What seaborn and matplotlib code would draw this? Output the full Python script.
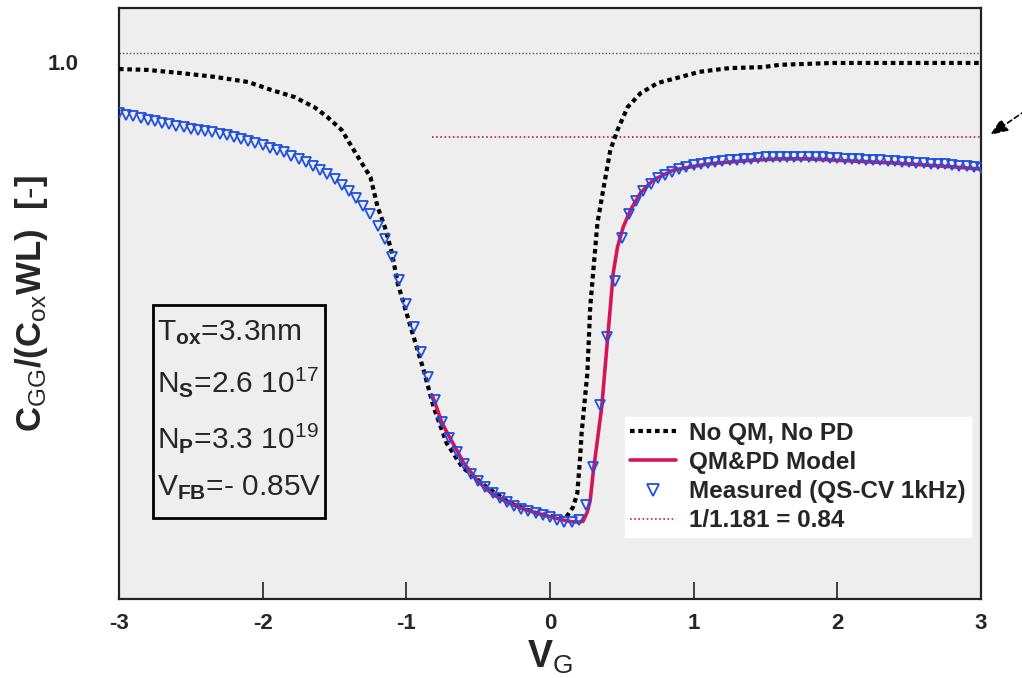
import numpy as np
import pandas as pd
import matplotlib
matplotlib.use('Agg')
import matplotlib.pyplot as plt
import seaborn as sns
from matplotlib.lines import Line2D
from matplotlib.patches import Rectangle

# ---------------- data ----------------
nopd_vg = [-3.00, -2.80, -2.56, -2.33, -2.10, -1.94, -1.78, -1.64, -1.55, -1.45,
           -1.38, -1.31, -1.25, -1.20, -1.15, -1.10, -1.06, -0.97, -0.88, -0.81,
           -0.72, -0.61, -0.44, -0.28, -0.09, 0.07, 0.11, 0.16, 0.19, 0.21,
           0.22, 0.26, 0.28, 0.30, 0.33, 0.37, 0.42, 0.47, 0.54, 0.63,
           0.75, 0.91, 1.04, 1.25, 1.48, 1.60, 1.97, 2.44, 3.00]
nopd_c = [0.986, 0.984, 0.977, 0.969, 0.958, 0.941, 0.926, 0.904, 0.883, 0.855,
          0.819, 0.784, 0.754, 0.690, 0.647, 0.591, 0.526, 0.432, 0.340, 0.260,
          0.183, 0.131, 0.088, 0.054, 0.032, 0.022, 0.022, 0.045, 0.075, 0.153,
          0.204, 0.333, 0.475, 0.548, 0.655, 0.726, 0.812, 0.855, 0.904, 0.934,
          0.956, 0.969, 0.980, 0.988, 0.990, 0.995, 0.999, 0.999, 0.999]

model_vg = [-0.82, -0.75, -0.70, -0.60, -0.50, -0.40, -0.30, -0.20, -0.10, 0.00,
            0.10, 0.15, 0.20, 0.23, 0.26, 0.28, 0.30, 0.33, 0.36, 0.40,
            0.42, 0.44, 0.47, 0.51, 0.56, 0.63, 0.72, 0.86, 1.00, 1.10,
            1.20, 1.40, 1.60, 1.80, 2.00, 2.20, 2.40, 2.60, 2.80, 3.00]
model_c = [0.286, 0.225, 0.196, 0.140, 0.100, 0.073, 0.056, 0.043, 0.033, 0.025,
           0.017, 0.014, 0.013, 0.015, 0.035, 0.060, 0.118, 0.189, 0.260, 0.404,
           0.475, 0.548, 0.604, 0.647, 0.683, 0.720, 0.748, 0.769, 0.777, 0.782,
           0.785, 0.790, 0.793, 0.793, 0.790, 0.787, 0.784, 0.780, 0.776, 0.771]

meas_vg = np.round(np.arange(-3.0, 3.0001, 0.05), 2)
meas_c = [0.891, 0.888, 0.885, 0.881, 0.877, 0.874, 0.871, 0.868, 0.864, 0.861,
          0.858, 0.856, 0.853, 0.850, 0.847, 0.844, 0.840, 0.836, 0.831, 0.827,
          0.822, 0.817, 0.812, 0.807, 0.800, 0.793, 0.786, 0.778, 0.770, 0.760,
          0.749, 0.737, 0.724, 0.709, 0.692, 0.675, 0.649, 0.620, 0.582,
          0.533, 0.482, 0.432, 0.378, 0.325, 0.275, 0.227, 0.194, 0.163, 0.138,
          0.117, 0.102, 0.088, 0.075, 0.065, 0.057, 0.048, 0.042, 0.036, 0.032,
          0.028, 0.025, 0.018, 0.014, 0.013, 0.017, 0.050, 0.131, 0.264, 0.410,
          0.530, 0.623, 0.675, 0.703, 0.724, 0.740, 0.752, 0.758, 0.764, 0.772,
          0.776, 0.780, 0.783, 0.785,
          0.787, 0.789, 0.790, 0.791, 0.792, 0.793, 0.795, 0.796, 0.796, 0.797,
          0.797, 0.797, 0.797, 0.797, 0.797, 0.796, 0.795, 0.794, 0.793, 0.792,
          0.792, 0.791, 0.790, 0.790, 0.789, 0.788, 0.787, 0.786, 0.785, 0.784,
          0.783, 0.782, 0.781, 0.780, 0.778, 0.777, 0.775, 0.774]

ref_top_vg = [-3.0, 2.99]
ref_top_c = [1.021, 1.021]
ref_084_vg = [-0.82, 2.99]
ref_084_c = [0.84, 0.84]

xticks = [-3, -2, -1, 0, 1, 2, 3]
xticklabels = ['-3', '-2', '-1', '0', '1', '2', '3']
legend_labels = ['No QM, No PD', 'QM&PD Model', 'Measured (QS-CV 1kHz)', '1/1.181 = 0.84']
info_lines = [r'T$_{\mathbf{ox}}$=3.3nm', r'N$_{\mathbf{S}}$=2.6 10$^{17}$',
              r'N$_{\mathbf{P}}$=3.3 10$^{19}$', r'V$_{\mathbf{FB}}$=- 0.85V']

# ---------------- style ----------------
sns.set_theme(style='white')
plt.rcParams['font.family'] = ['Liberation Sans', 'DejaVu Sans']
plt.rcParams['mathtext.fontset'] = 'custom'
plt.rcParams['mathtext.rm'] = 'Liberation Sans'
plt.rcParams['mathtext.bf'] = 'Liberation Sans:bold'
plt.rcParams['mathtext.it'] = 'Liberation Sans:italic'
plt.rcParams['axes.unicode_minus'] = False

RED = '#d6145a'
BLUE = '#1f4fe0'

fig = plt.figure(figsize=(10.22, 6.78), dpi=100)
ax = fig.add_axes([119 / 1022, 1 - 599 / 678, 862 / 1022, 591 / 678])
ax.set_facecolor('#eeeeee')

sns.lineplot(x=ref_top_vg, y=ref_top_c, ax=ax, color='#555555', linewidth=1.0,
             linestyle=(0, (1, 1.5)), zorder=2)
sns.lineplot(x=ref_084_vg, y=ref_084_c, ax=ax, color=RED, linewidth=1.2,
             linestyle=(0, (1, 1.5)), zorder=2)
sns.lineplot(x=nopd_vg, y=nopd_c, ax=ax, color='black', linewidth=3.0,
             linestyle=(0, (1.1, 0.9)), zorder=3)
sns.lineplot(x=model_vg, y=model_c, ax=ax, color=RED, linewidth=2.6, zorder=4)
sns.lineplot(x=meas_vg, y=meas_c, ax=ax, color=BLUE, linestyle='none', marker='v',
             markersize=6.5, markerfacecolor='none', markeredgecolor=BLUE,
             markeredgewidth=1.3, zorder=5)

ax.set_xlim(-3, 3)
ax.set_ylim(-0.152, 1.117)

ax.set_xticks(xticks)
ax.set_xticklabels(xticklabels, fontsize=16, fontweight='bold')
ax.tick_params(axis='x', direction='in', length=12.5, width=1.2, color='#222222',
               pad=10, bottom=True)
ax.set_yticks([1.0])
ax.set_yticklabels(['1.0'], fontsize=16, fontweight='bold')
ax.tick_params(axis='y', length=0, pad=29)
ax.set_xlabel('')
ax.set_ylabel('')
for s in ax.spines.values():
    s.set_color('#222222')
    s.set_linewidth(1.6)

# axis labels
ax.text(0.5, -0.117, r'$\mathbf{V}_{\mathrm{G}}$', transform=ax.transAxes,
        ha='center', va='baseline', fontsize=27)
ax.text(-0.101, 0.5, r'$\mathbf{C}_{\mathrm{GG}}\mathbf{/(C}_{\mathrm{ox}}\mathbf{WL)\ \ [\text{-}]}$',
        transform=ax.transAxes, rotation=90, ha='center', va='center', fontsize=25)

# info box
ax.add_patch(Rectangle(((153 - 119) / 862, (599 - 518) / 591), (325 - 153) / 862,
                       (518 - 305) / 591, transform=ax.transAxes, fill=False,
                       edgecolor='black', linewidth=2, zorder=6))
baselines = [340, 392, 448, 495]
for txt, b in zip(info_lines, baselines):
    ax.text((157 - 119) / 862, (599 - b) / 591, txt, transform=ax.transAxes,
            ha='left', va='baseline', fontsize=21.5, zorder=7)

# legend
handles = [
    Line2D([], [], color='black', linewidth=3.0, linestyle=(0, (1.1, 0.9))),
    Line2D([], [], color=RED, linewidth=2.6),
    Line2D([], [], color=BLUE, linestyle='none', marker='v', markersize=9,
           markerfacecolor='none', markeredgecolor=BLUE, markeredgewidth=1.3),
    Line2D([], [], color=RED, linewidth=1.2, linestyle=(0, (1, 1.5))),
]
leg = ax.legend(handles, legend_labels, loc='lower left',
                bbox_to_anchor=(0.587, 0.105), borderaxespad=0,
                prop={'family': 'Liberation Sans', 'weight': 'bold', 'size': 17.5},
                frameon=True, fancybox=False, framealpha=1, edgecolor='white',
                facecolor='white', handlelength=1.9, handletextpad=0.55,
                labelspacing=0.25, borderpad=0.2)
leg.set_zorder(8)

# arrow at right
ax.annotate('', xy=(990 / 1022, 1 - 135 / 678), xycoords='figure fraction',
            xytext=(1.01, 1 - 106 / 678), textcoords='figure fraction',
            arrowprops=dict(arrowstyle='-|>,head_length=0.9,head_width=0.35',
                            linestyle=(0, (3, 2)), color='black', lw=1.2,
                            shrinkA=0, shrinkB=0),
            annotation_clip=False)

fig.savefig('out.png', dpi=100)
